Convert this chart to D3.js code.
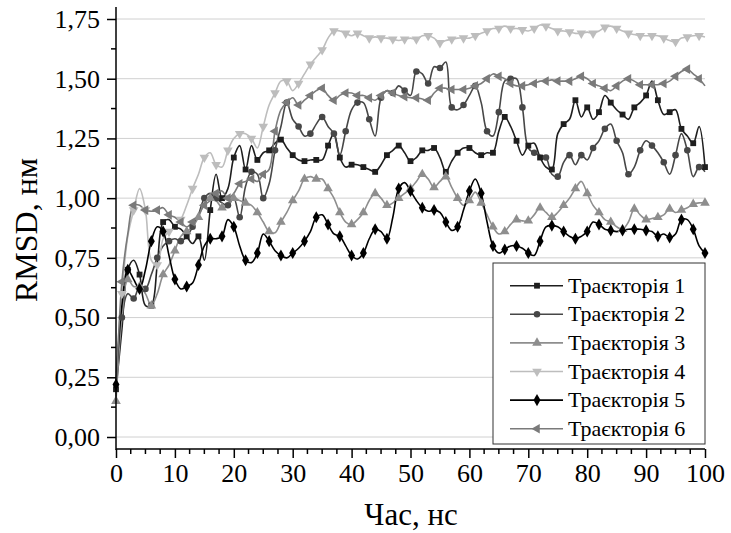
<!DOCTYPE html>
<html>
<head>
<meta charset="utf-8">
<script src="https://cdn.jsdelivr.net/npm/d3@7"></script>
<style>
  body { margin: 0; background: #fff; }
  svg, svg text { font-family: "Liberation Serif", Tinos, "Times New Roman", Times, "DejaVu Serif", "Noto Serif", FreeSerif, serif; }
</style>
</head>
<body>
<script>
// time samples, ns
const time = d3.range(0, 101);

const traj1 = [
  0.20,0.45,0.70,0.74,0.68,0.55,0.55,0.72,0.90,0.91,
  0.88,0.87,0.84,0.81,0.84,0.74,0.95,1.10,1.00,1.04,
  1.17,1.22,1.12,1.22,1.16,1.19,1.20,1.23,1.245,1.21,
  1.18,1.16,1.155,1.16,1.16,1.16,1.22,1.27,1.17,1.13,
  1.14,1.14,1.13,1.12,1.11,1.14,1.18,1.20,1.22,1.19,
  1.155,1.17,1.20,1.20,1.21,1.17,1.11,1.155,1.19,1.21,
  1.21,1.19,1.18,1.19,1.19,1.28,1.34,1.30,1.24,1.18,
  1.22,1.23,1.17,1.13,1.12,1.27,1.31,1.33,1.41,1.34,
  1.38,1.33,1.36,1.43,1.40,1.37,1.35,1.33,1.38,1.40,
  1.43,1.49,1.41,1.35,1.36,1.37,1.29,1.26,1.23,1.30,
  1.13];
const traj2 = [
  0.18,0.50,0.60,0.58,0.63,0.62,0.68,0.75,0.80,0.82,
  0.83,0.82,0.84,0.88,0.93,1.00,1.02,1.00,0.98,0.97,
  1.00,0.92,1.05,1.11,1.10,1.00,1.06,1.20,1.30,1.40,
  1.33,1.30,1.26,1.27,1.31,1.34,1.30,1.27,1.18,1.28,
  1.37,1.40,1.40,1.33,1.26,1.42,1.45,1.44,1.47,1.45,
  1.43,1.53,1.52,1.48,1.55,1.545,1.57,1.38,1.37,1.39,
  1.43,1.47,1.40,1.28,1.26,1.36,1.49,1.50,1.50,1.38,
  1.21,1.19,1.18,1.17,1.10,1.09,1.15,1.18,1.14,1.18,
  1.16,1.21,1.24,1.29,1.31,1.24,1.19,1.10,1.13,1.20,
  1.24,1.22,1.19,1.15,1.10,1.18,1.27,1.20,1.09,1.13,
  1.11];
const traj3 = [
  0.15,0.50,0.66,0.63,0.63,0.60,0.55,0.60,0.68,0.72,
  0.78,0.84,0.86,0.88,0.92,0.98,1.00,0.99,0.96,0.97,
  1.00,0.99,0.98,0.97,0.94,0.90,0.86,0.855,0.90,0.94,
  0.99,1.03,1.08,1.09,1.08,1.08,1.04,1.00,0.94,0.90,
  0.89,0.91,0.94,0.99,1.02,1.00,0.97,0.98,1.00,1.02,
  1.04,1.07,1.10,1.08,1.045,1.07,1.09,1.045,1.00,0.97,
  0.99,1.025,0.98,0.93,0.88,0.85,0.86,0.89,0.91,0.905,
  0.905,0.93,0.96,0.94,0.92,0.94,0.97,1.00,1.04,1.07,
  1.02,0.97,0.94,0.91,0.90,0.88,0.87,0.90,0.955,0.93,
  0.91,0.915,0.92,0.93,0.955,0.94,0.95,0.96,0.975,0.98,
  0.98];
const traj4 = [
  0.27,0.60,0.84,0.95,1.04,0.95,0.74,0.72,0.83,0.86,
  0.88,0.91,0.97,1.04,1.10,1.17,1.19,1.14,1.13,1.20,
  1.25,1.27,1.27,1.25,1.21,1.30,1.39,1.44,1.49,1.49,
  1.45,1.48,1.52,1.56,1.59,1.62,1.67,1.70,1.70,1.69,
  1.68,1.69,1.68,1.67,1.675,1.67,1.67,1.665,1.66,1.665,
  1.67,1.665,1.68,1.68,1.67,1.65,1.66,1.665,1.67,1.67,
  1.67,1.68,1.69,1.70,1.71,1.71,1.72,1.71,1.71,1.705,
  1.70,1.71,1.725,1.72,1.71,1.70,1.70,1.695,1.69,1.69,
  1.695,1.69,1.70,1.715,1.72,1.71,1.70,1.69,1.685,1.68,
  1.68,1.68,1.68,1.67,1.66,1.655,1.67,1.675,1.68,1.68,
  1.675];
const traj5 = [
  0.22,0.55,0.70,0.66,0.62,0.70,0.82,0.88,0.86,0.76,
  0.66,0.62,0.63,0.645,0.72,0.80,0.83,0.83,0.84,0.91,
  0.88,0.80,0.74,0.73,0.77,0.85,0.82,0.78,0.76,0.75,
  0.77,0.79,0.82,0.86,0.92,0.93,0.89,0.85,0.84,0.80,
  0.76,0.745,0.77,0.83,0.87,0.86,0.83,0.92,1.04,1.065,
  1.03,0.99,0.96,0.945,0.95,0.94,0.90,0.865,0.88,0.95,
  1.03,1.08,1.02,0.90,0.80,0.77,0.785,0.80,0.80,0.79,
  0.77,0.76,0.82,0.88,0.885,0.88,0.86,0.84,0.83,0.84,
  0.86,0.90,0.89,0.87,0.865,0.86,0.865,0.87,0.87,0.87,
  0.865,0.86,0.84,0.85,0.835,0.85,0.91,0.91,0.87,0.80,
  0.77];
const traj6 = [
  0.17,0.65,0.85,0.97,0.97,0.95,0.945,0.95,0.96,0.93,
  0.92,0.90,0.88,0.90,0.93,0.97,0.99,1.02,1.03,1.00,
  1.02,1.06,1.07,1.08,1.07,1.10,1.12,1.28,1.37,1.40,
  1.42,1.39,1.41,1.43,1.45,1.46,1.43,1.41,1.43,1.44,
  1.44,1.43,1.43,1.42,1.41,1.43,1.45,1.44,1.43,1.425,
  1.42,1.42,1.415,1.41,1.44,1.46,1.46,1.455,1.455,1.455,
  1.46,1.47,1.48,1.50,1.52,1.51,1.50,1.48,1.47,1.47,
  1.475,1.48,1.49,1.49,1.495,1.49,1.49,1.49,1.50,1.51,
  1.50,1.48,1.47,1.46,1.45,1.47,1.49,1.50,1.49,1.475,
  1.475,1.475,1.475,1.48,1.49,1.51,1.53,1.54,1.52,1.50,
  1.47];

const seriesNames = ["Траєкторія 1","Траєкторія 2","Траєкторія 3","Траєкторія 4","Траєкторія 5","Траєкторія 6"];
const xTicks = [0,10,20,30,40,50,60,70,80,90,100];
const yTicks = [0,0.25,0.5,0.75,1,1.25,1.5,1.75];

const allSeries = [traj1, traj2, traj3, traj4, traj5, traj6];
const colors = ["#1e1e1e","#474747","#8e8e8e","#bdbdbd","#000000","#7a7a7a"];
const shapes = [
  {type: d3.symbolSquare, size: 34, rot: 0},
  {type: d3.symbolCircle, size: 34, rot: 0},
  {type: d3.symbolTriangle, size: 40, rot: 0},
  {type: d3.symbolTriangle, size: 40, rot: 180},
  {type: d3.symbolDiamond, size: 42, rot: 0},
  {type: d3.symbolTriangle, size: 40, rot: -90}
];
const FONT = "'Liberation Serif', Tinos, 'Times New Roman', Times, 'DejaVu Serif', serif";

const W = 731, H = 533;
const svg = d3.select("body").append("svg").attr("width", W).attr("height", H)
  .attr("font-family", FONT);

const x = d3.scaleLinear().domain([0, 100]).range([116, 705]);
const y = d3.scaleLinear().domain([0, 1.75]).range([437, 19]);
const axisY0 = 449, axisTop = 7;

// grid
svg.append("g").selectAll("line").data(yTicks).join("line")
  .attr("x1", x(0)).attr("x2", x(100))
  .attr("y1", d => y(d)).attr("y2", d => y(d))
  .attr("stroke", "#d0d0d0").attr("stroke-width", 1);

// curves
const line = d3.line().x((d, i) => x(time[i])).y(d => y(d)).curve(d3.curveCatmullRom.alpha(0.5));
allSeries.forEach((s, k) => {
  svg.append("path").datum(s).attr("d", line)
    .attr("fill", "none").attr("stroke", colors[k]).attr("stroke-width", 1.6);
});
allSeries.forEach((s, k) => {
  const sym = d3.symbol().type(shapes[k].type).size(shapes[k].size);
  svg.append("g").selectAll("path")
    .data(s.map((v, i) => [time[i], v]).filter((d, i) => (i + k) % 2 === 0))
    .join("path")
    .attr("d", sym)
    .attr("transform", d => `translate(${x(d[0])},${y(d[1])}) rotate(${shapes[k].rot})`)
    .attr("fill", colors[k]);
});

// axes
const xAxis = d3.axisBottom(x).tickValues(xTicks).tickSize(9).tickPadding(6).tickFormat(d3.format("d"));
const gx = svg.append("g").attr("transform", `translate(0,${axisY0})`).call(xAxis)
  .attr("font-family", FONT);
gx.select(".domain").remove();
gx.append("line").attr("x1", x(0)).attr("x2", x(100)).attr("stroke", "#000").attr("stroke-width", 1.5);
gx.selectAll(".tick line").attr("stroke-width", 1.5);
gx.selectAll(".tick text").attr("font-size", 26).attr("fill", "#000");
gx.append("g").selectAll("line").data(d3.range(0, 40).map(i => i * 2.5).filter(v => v % 10 !== 0))
  .join("line").attr("x1", d => x(d)).attr("x2", d => x(d)).attr("y1", 0).attr("y2", 5)
  .attr("stroke", "#000").attr("stroke-width", 1.5);

const yAxis = d3.axisLeft(y).tickValues(yTicks).tickSize(9).tickPadding(7)
  .tickFormat(d => d3.format(".2f")(d).replace(".", ","));
const gy = svg.append("g").attr("transform", `translate(${x(0)},0)`).call(yAxis)
  .attr("font-family", FONT);
gy.select(".domain").remove();
gy.append("line").attr("y1", axisTop).attr("y2", axisY0 + 1).attr("stroke", "#000").attr("stroke-width", 1.5);
gy.selectAll(".tick line").attr("stroke-width", 1.5);
gy.selectAll(".tick text").attr("font-size", 26).attr("fill", "#000");
gy.append("g").selectAll("line").data(yTicks.slice(0, -1).map(v => v + 0.125))
  .join("line").attr("x1", -5).attr("x2", 0).attr("y1", d => y(d)).attr("y2", d => y(d))
  .attr("stroke", "#000").attr("stroke-width", 1.5);

// titles
svg.append("text").attr("x", 411).attr("y", 525).attr("text-anchor", "middle")
  .attr("font-size", 31).text("Час, нс");
svg.append("text").attr("transform", "translate(37,230) rotate(-90)").attr("text-anchor", "middle")
  .attr("font-size", 32).text("RMSD, нм");

// legend
const lg = svg.append("g");
lg.append("rect").attr("x", 493).attr("y", 263).attr("width", 212).attr("height", 181)
  .attr("fill", "#fff").attr("stroke", "#333").attr("stroke-width", 1);
seriesNames.forEach((name, k) => {
  const ly = 285.7 + k * 28.6;
  lg.append("line").attr("x1", 510).attr("x2", 563).attr("y1", ly).attr("y2", ly)
    .attr("stroke", colors[k]).attr("stroke-width", 1.6);
  lg.append("path").attr("d", d3.symbol().type(shapes[k].type).size(shapes[k].size))
    .attr("transform", `translate(537,${ly}) rotate(${shapes[k].rot})`).attr("fill", colors[k]);
  lg.append("text").attr("x", 568).attr("y", ly + 7).attr("font-size", 22).text(name);
});
</script>
</body>
</html>
